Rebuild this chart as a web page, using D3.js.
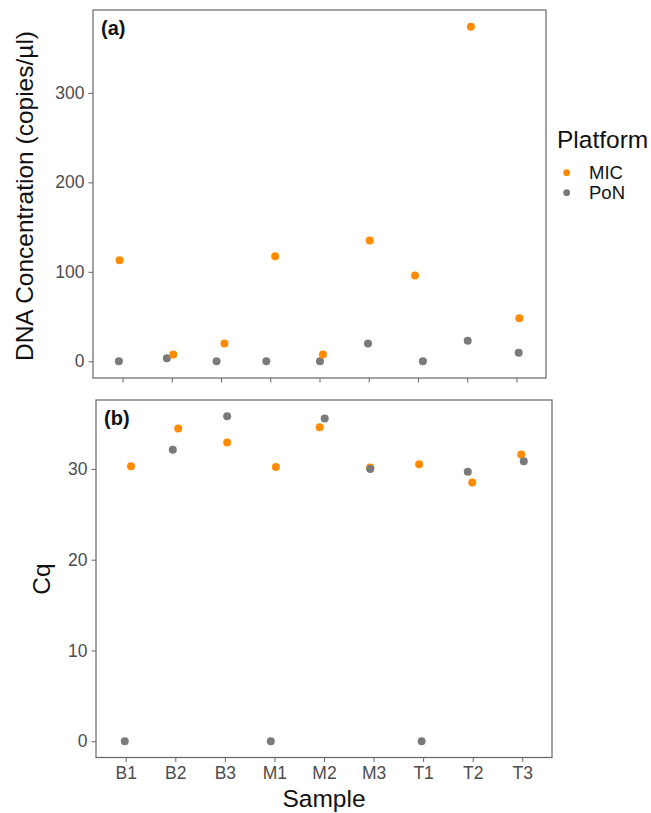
<!DOCTYPE html>
<html>
<head>
<meta charset="utf-8">
<script src="https://cdn.jsdelivr.net/npm/d3@7"></script>
<style>
  html, body { margin: 0; padding: 0; background: #fff; }
  svg { display: block; font-family: "Liberation Sans", Arial, sans-serif; }
</style>
</head>
<body>
<svg id="chart" width="651" height="813"></svg>
<script>
// ---- data ----
const samples = ["B1", "B2", "B3", "M1", "M2", "M3", "T1", "T2", "T3"];
const platforms = ["MIC", "PoN"];
// (a) DNA concentration (copies/µl)
const micConc = [113, 7.5, 20, 117.5, 7.5, 135, 96, 374, 48];
const ponConc = [0, 3.5, 0, 0, 0, 20, 0, 23, 9.5];
// (b) Cq values
const micCq = [30.3, 34.45, 32.9, 30.2, 34.6, 30.15, 30.5, 28.5, 31.6];
const ponCq = [0, 32.1, 35.8, 0, 35.55, 30.0, 0, 29.7, 30.85];
// horizontal jitter (in category widths), as in the original jittered plot
const micJitterA = [-0.06, 0.03, 0.07, 0.10, 0.07, 0.02, -0.06, 0.075, 0.06];
const ponJitterA = [-0.075, -0.10, -0.09, -0.08, 0.01, -0.015, 0.10, 0.01, 0.045];
const micJitterB = [0.107, 0.06, 0.046, 0.03, -0.087, -0.067, -0.08, -0.008, -0.02];
const ponJitterB = [-0.02, -0.05, 0.046, -0.073, 0.014, -0.067, -0.03, -0.1, 0.03];
const concTicks = [0, 100, 200, 300];
const cqTicks = [0, 10, 20, 30];

const colors = { MIC: "#FF8C00", PoN: "#7a7a7a" };
const svg = d3.select("#chart");

function expandDomain(values) {
  const lo = d3.min(values), hi = d3.max(values);
  const pad = (hi - lo) * 0.05;
  return [lo - pad, hi + pad];
}

function panel(opts) {
  const { x0, x1, y0, y1, mic, pon, micJ, ponJ, ticks, label, showX, order } = opts;
  const xs = d3.scalePoint().domain(samples).range([x0, x1]).padding(0.6);
  const step = xs.step();
  const ys = d3.scaleLinear().domain(expandDomain(mic.concat(pon))).range([y1, y0]);

  const g = svg.append("g");
  // y axis
  const ya = g.append("g").attr("transform", `translate(${x0},0)`)
    .call(d3.axisLeft(ys).tickValues(ticks).tickSize(4.5).tickPadding(4).tickFormat(d3.format("d")));
  ya.select(".domain").remove();
  ya.selectAll(".tick line").attr("stroke", "#666").attr("stroke-width", 1);
  ya.selectAll(".tick text").attr("fill", "#4d4d4d").style("font-size", "17.5px")
    .style("font-family", "'Liberation Sans', Arial, sans-serif");
  // x axis
  const xa = g.append("g").attr("transform", `translate(0,${y1})`)
    .call(d3.axisBottom(xs).tickSize(4.5).tickPadding(5));
  xa.select(".domain").remove();
  xa.selectAll(".tick line").attr("stroke", "#666").attr("stroke-width", 1);
  if (showX) {
    xa.selectAll(".tick text").attr("fill", "#4d4d4d").style("font-size", "17.5px")
      .style("font-family", "'Liberation Sans', Arial, sans-serif");
  } else {
    xa.selectAll(".tick text").remove();
  }
  // border
  g.append("rect").attr("x", x0).attr("y", y0).attr("width", x1 - x0).attr("height", y1 - y0)
    .attr("fill", "none").attr("stroke", "#666").attr("stroke-width", 1.2);

  const layers = {
    MIC: samples.map((s, i) => ({ s, v: mic[i], j: micJ[i] })),
    PoN: samples.map((s, i) => ({ s, v: pon[i], j: ponJ[i] }))
  };
  order.forEach(p => {
    g.append("g").selectAll("circle").data(layers[p]).join("circle")
      .attr("cx", d => xs(d.s) + d.j * step)
      .attr("cy", d => ys(d.v))
      .attr("r", 4)
      .attr("fill", colors[p]);
  });

  g.append("text").attr("x", x0 + 8).attr("y", y0 + 24.5)
    .attr("font-weight", "bold").attr("font-size", 20).attr("fill", "#111").text(label);
  return { xs, ys };
}

panel({ x0: 93, x1: 546, y0: 10, y1: 378, mic: micConc, pon: ponConc,
  micJ: micJitterA, ponJ: ponJitterA, ticks: concTicks, label: "(a)", showX: false, order: ["PoN", "MIC"] });
panel({ x0: 96, x1: 552, y0: 400, y1: 757.5, mic: micCq, pon: ponCq,
  micJ: micJitterB, ponJ: ponJitterB, ticks: cqTicks, label: "(b)", showX: true, order: ["MIC", "PoN"] });

// axis titles
svg.append("text").attr("transform", "translate(33,196) rotate(-90)")
  .attr("text-anchor", "middle").attr("font-size", 24.5).attr("fill", "#111")
  .text("DNA Concentration (copies/\u00b5l)");
svg.append("text").attr("transform", "translate(50,579) rotate(-90)")
  .attr("text-anchor", "middle").attr("font-size", 24.5).attr("fill", "#111")
  .text("Cq");
svg.append("text").attr("x", 324).attr("y", 807)
  .attr("text-anchor", "middle").attr("font-size", 24.5).attr("fill", "#111")
  .text("Sample");

// legend
const lg = svg.append("g");
lg.append("text").attr("x", 557).attr("y", 148).attr("font-size", 24.5).attr("fill", "#111").text("Platform");
platforms.forEach((p, i) => {
  lg.append("circle").attr("cx", 566.7).attr("cy", 172.7 + i * 20).attr("r", 3.4).attr("fill", colors[p]);
  lg.append("text").attr("x", 589).attr("y", 179 + i * 20).attr("font-size", 18.5).attr("fill", "#111").text(p);
});
</script>
</body>
</html>
